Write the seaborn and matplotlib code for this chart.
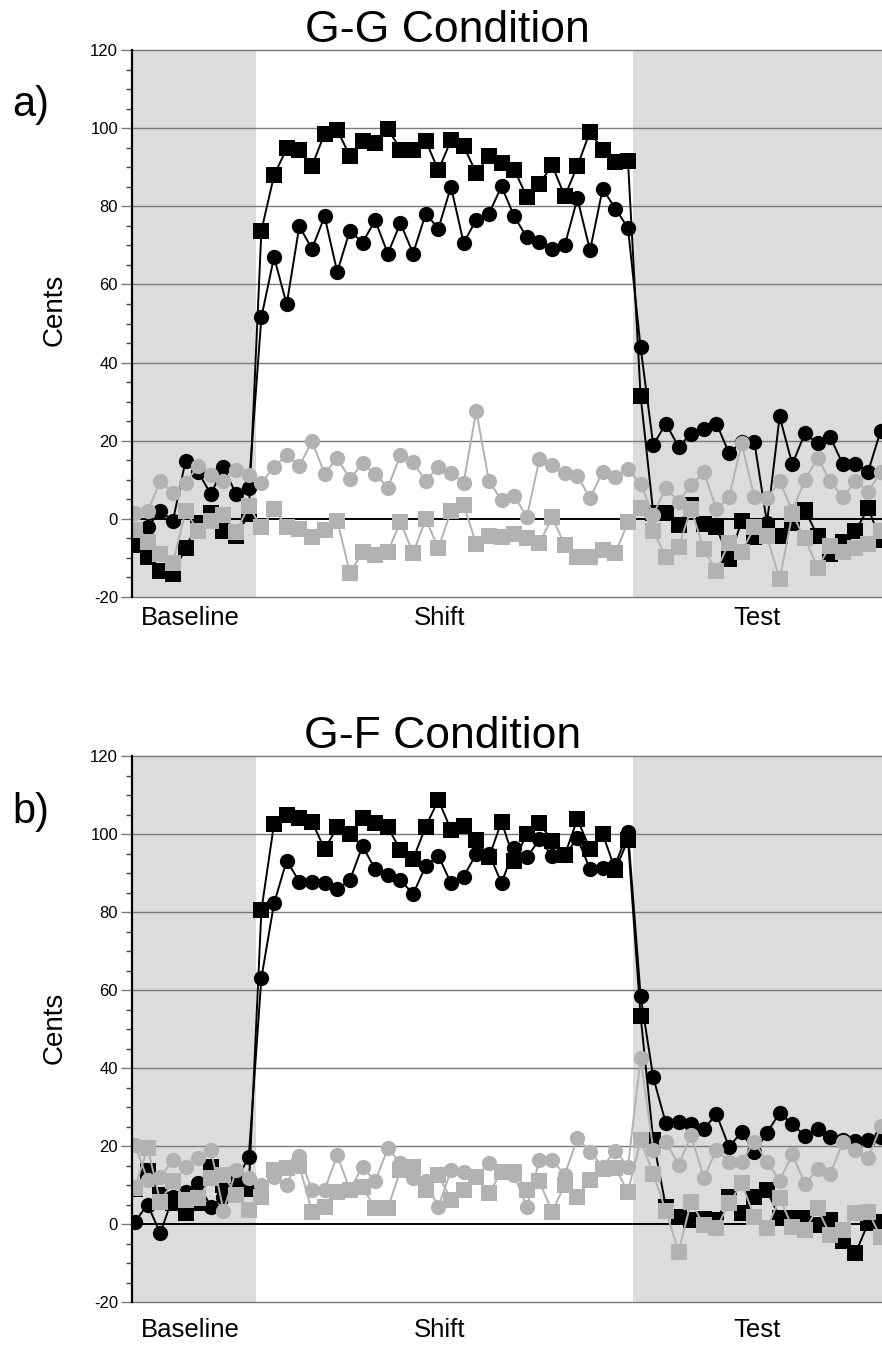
import numpy as np
import pandas as pd
import matplotlib
matplotlib.use("Agg")
import matplotlib.pyplot as plt
import seaborn as sns
from matplotlib.ticker import MultipleLocator

# ---------------- data ----------------
phases = ["Baseline", "Shift", "Test"]
panel_titles = ["G-G Condition", "G-F Condition"]
panel_tags = ["a)", "b)"]
y_ticks = [-20, 0, 20, 40, 60, 80, 100, 120]

# Panel a (G-G)
gg_black_sq = [-6.7, -9.7, -13.3, -14.2, -7.4, -1, 1.6, -3, -4.5, 1.2,
               73.8, 87.9, 94.8, 94.4, 90.3, 98.6, 99.5, 92.9, 96.8, 96.2, 99.9, 94.5, 94.5, 96.8, 89.2,
               96.9, 95.4, 88.5, 92.8, 91.1, 89.4, 82.4, 85.8, 90.5, 82.6, 90.3, 99.1, 94.4, 91.4, 91.7,
               31.5, 1.6, 1.4, -1.5, 3.5, -1.4, -2.2, -10.3, -0.5, -4.6, -2, -4.4, -1, 2.3, -4.4,
               -9, -6, -3.1, 2.7, -5.5]
gg_black_ci = [-6, -2, 1.9, -0.5, 14.9, 12, 6.3, 13.2, 6.3, 8,
               51.6, 67, 54.9, 74.9, 69.1, 77.4, 63.2, 73.8, 70.7, 76.4, 67.9, 75.7, 67.9, 78.1, 74.3,
               85, 70.6, 76.6, 78.1, 85.1, 77.4, 72.1, 70.9, 69.1, 70, 82, 68.7, 84.5, 79.4, 74.5,
               43.9, 18.9, 24.4, 18.5, 21.7, 23, 24.4, 16.8, 19.7, 19.6, -1, 26.2, 14, 21.9, 19.3,
               20.9, 14, 14, 12.1, 22.6]
gg_gray_ci = [1.6, 1.9, 9.7, 6.5, 9.1, 13.6, 11.2, 9.8, 12.5, 11.3,
              9.3, 13.2, 16.4, 13.6, 19.8, 11.6, 15.6, 10.2, 14.2, 11.6, 7.9, 16.3, 14.5, 9.7, 13.4,
              11.7, 9.3, 27.7, 9.7, 4.8, 5.9, 0.5, 15.3, 13.8, 11.7, 11, 5.3, 12.1, 10.8, 12.7,
              8.9, 1, 8, 4.4, 8.7, 11.9, 2.5, 5.5, 19.3, 5.5, 5.3, 9.6, 2.1, 9.9, 15.7,
              9.6, 5.5, 9.7, 7, 11.9]
gg_gray_sq = [-2.8, -5.9, -9, -11.3, 2, -3.1, -0.5, 1.1, -3.3, 3.3,
              -2.2, 2.5, -2, -2.7, -4.6, -2.9, -0.5, -13.8, -8.6, -9.2, -8.4, -0.8, -8.8, -0.1, -7.5,
              2, 3.6, -6.5, -4.5, -4.6, -3.9, -5, -6.3, 0.5, -6.7, -9.7, -9.7, -8, -8.8, -0.9,
              2.9, -3.1, -9.7, -7.2, 2.5, -7.8, -13.3, -6.1, -8.4, -2.2, -4.5, -15.5, 1.2, -5, -12.5,
              -6.9, -8.4, -7.4, -6.5, -3.1]

# Panel b (G-F)
gf_black_sq = [9, 13.5, 7.4, 5.5, 2.7, 5.5, 14.7, 10, 10.9, 9.1,
               80.5, 102.6, 104.9, 104, 103.2, 96.1, 101.7, 100, 104, 102.9, 101.7, 95.9, 93.5, 101.9, 108.7,
               101.1, 102, 98.5, 94, 103.2, 93.2, 100, 102.7, 98.3, 94.6, 103.8, 96.1, 100, 90.8, 98.5,
               53.3, 21.5, 4.4, 1.8, 1, 1.2, 1, 7, 2.7, 7, 8.7, 1.5, 1.5, 1.5, -0.3,
               1, -4.3, -7.5, 0.2, 0.6]
gf_black_ci = [0.6, 5, -2.4, 7, 8.3, 10.4, 4.4, 7, 11, 17.2,
               63.1, 82.2, 93.2, 87.8, 87.8, 87.4, 85.8, 88.2, 96.9, 91, 89.5, 88.2, 84.6, 91.8, 94.4,
               87.4, 89.1, 94.9, 95, 87.4, 96.3, 94, 98.6, 94.4, 94.6, 98.9, 91, 91.2, 92.1, 100.6,
               58.5, 37.6, 25.8, 26.1, 25.6, 24.3, 28.2, 19.7, 23.7, 18.4, 23.4, 28.5, 25.6, 22.6, 24.3,
               22.4, 21.5, 21.4, 21.5, 22.2]
gf_gray_ci = [20.3, 11.3, 12.1, 16.4, 14.7, 16.8, 19.1, 3.4, 13.8, 11.7,
              10, 12, 10, 17.4, 8.7, 8.7, 17.7, 8.7, 14.7, 10.9, 19.4, 15.6, 11.7, 10.9, 4.4,
              13.8, 13.4, 12.1, 15.6, 13.4, 12.6, 4.4, 16.4, 16.4, 12.6, 22, 18.5, 14.7, 18.8, 14.7,
              42.5, 19.1, 21.1, 15.1, 22.8, 11.7, 19.1, 16, 16, 21.1, 16, 11.1, 17.9, 10.3, 14,
              12.8, 21.1, 19, 16.8, 25.1]
gf_gray_sq = [9.3, 19.6, 5.7, 10.9, 6.2, 6.6, 11.7, 12.6, 7.4, 3.6,
              7, 13.8, 14.3, 15, 3.2, 4.4, 8.3, 8.7, 9.5, 4, 4, 13.8, 14.7, 8.7, 12.6,
              6.2, 8.7, 12.1, 7.9, 13.4, 13.4, 8.7, 10.9, 3.2, 10, 7, 11.3, 14, 14.3, 8.3,
              21.5, 12.8, 3.4, -7.1, 5.7, -0.3, -1.1, 5.3, 10.4, 1.9, -1.1, 6.6, -0.7, -1.5, 4,
              -2.8, -1.5, 2.7, 3.2, -3.3]

n_baseline, n_shift = 10, 30

# ---------------- style ----------------
sns.set_theme(style="white")
plt.rcParams["font.family"] = ["Liberation Sans", "DejaVu Sans"]
plt.rcParams["text.color"] = "black"
plt.rcParams["ytick.labelcolor"] = "black"

BLACK = "#000000"
GRAY = "#b2b2b2"
SHADE = "#dcdcdc"
GRID = "#7a7a7a"

fig = plt.figure(figsize=(8.82, 13.45), dpi=100)

W, H = 882, 1345
ax_left_px = 132
px_per_trial = 12.64
first_pt_px = 135.0
x_lo = (ax_left_px - first_pt_px) / px_per_trial
x_hi = (W - first_pt_px) / px_per_trial

panels = [
    dict(top=50, bottom=597, series=[gg_black_sq, gg_black_ci, gg_gray_ci, gg_gray_sq],
         title_x=447, title_y=30, tag_y=105, cents_y=310, phase_y=618),
    dict(top=756, bottom=1302, series=[gf_black_sq, gf_black_ci, gf_gray_ci, gf_gray_sq],
         title_x=443, title_y=737, tag_y=812, cents_y=1028, phase_y=1330),
]
styles = [(BLACK, "s"), (BLACK, "o"), (GRAY, "o"), (GRAY, "s")]

for k, p in enumerate(panels):
    ax = fig.add_axes([ax_left_px / W, 1 - p["bottom"] / H,
                       (W - ax_left_px) / W, (p["bottom"] - p["top"]) / H])
    ax.set_xlim(x_lo, x_hi)
    ax.set_ylim(-20, 120)

    b_edge = n_baseline - 0.43
    t_edge = n_baseline + n_shift - 0.6
    ax.axvspan(x_lo, b_edge, color=SHADE, zorder=0, lw=0)
    ax.axvspan(t_edge, x_hi, color=SHADE, zorder=0, lw=0)

    for yv in y_ticks:
        if yv == 0:
            ax.axhline(yv, color="black", lw=1.4, zorder=1)
        else:
            ax.axhline(yv, color=GRID, lw=1.0, zorder=1, clip_on=False)

    x = np.arange(len(p["series"][0]))
    # black first, gray on top
    for (col, mk), vals in zip(styles, p["series"]):
        df = pd.DataFrame({"trial": x, "cents": vals})
        sns.lineplot(data=df, x="trial", y="cents", ax=ax, color=col, marker=mk,
                     markersize=11, markeredgewidth=0, linewidth=1.4,
                     zorder=3 if col == BLACK else 4, errorbar=None, sort=False)

    for s in ["top", "right", "bottom"]:
        ax.spines[s].set_visible(False)
    ax.spines["left"].set_color("black")
    ax.spines["left"].set_linewidth(1.6)
    ax.spines["left"].set_zorder(5)

    ax.set_yticks(y_ticks)
    ax.set_yticklabels([str(v) for v in y_ticks], fontsize=12, color="black")
    ax.yaxis.set_minor_locator(MultipleLocator(5))
    ax.tick_params(axis="y", which="major", direction="out", length=8, width=1.0,
                   color=GRID, left=True, pad=2)
    ax.tick_params(axis="y", which="minor", direction="out", length=4, width=1.0,
                   color="#444444", left=True)
    ax.set_xticks([])
    ax.set_xlabel("")
    ax.set_ylabel("")
    ax.grid(False)

    fig.text(p["title_x"] / W, 1 - p["title_y"] / H, panel_titles[k], fontsize=32,
             ha="center", va="center", color="black")
    fig.text(12 / W, 1 - p["tag_y"] / H, panel_tags[k], fontsize=30,
             ha="left", va="center", color="black")
    fig.text(55 / W, 1 - p["cents_y"] / H, "Cents", fontsize=20, rotation=90,
             ha="center", va="center", color="black")
    for name, cx in zip(phases, [190, 440, 757]):
        fig.text(cx / W, 1 - p["phase_y"] / H, name, fontsize=18.5,
                 ha="center", va="center", color="black")

fig.savefig("out.png", dpi=100)
